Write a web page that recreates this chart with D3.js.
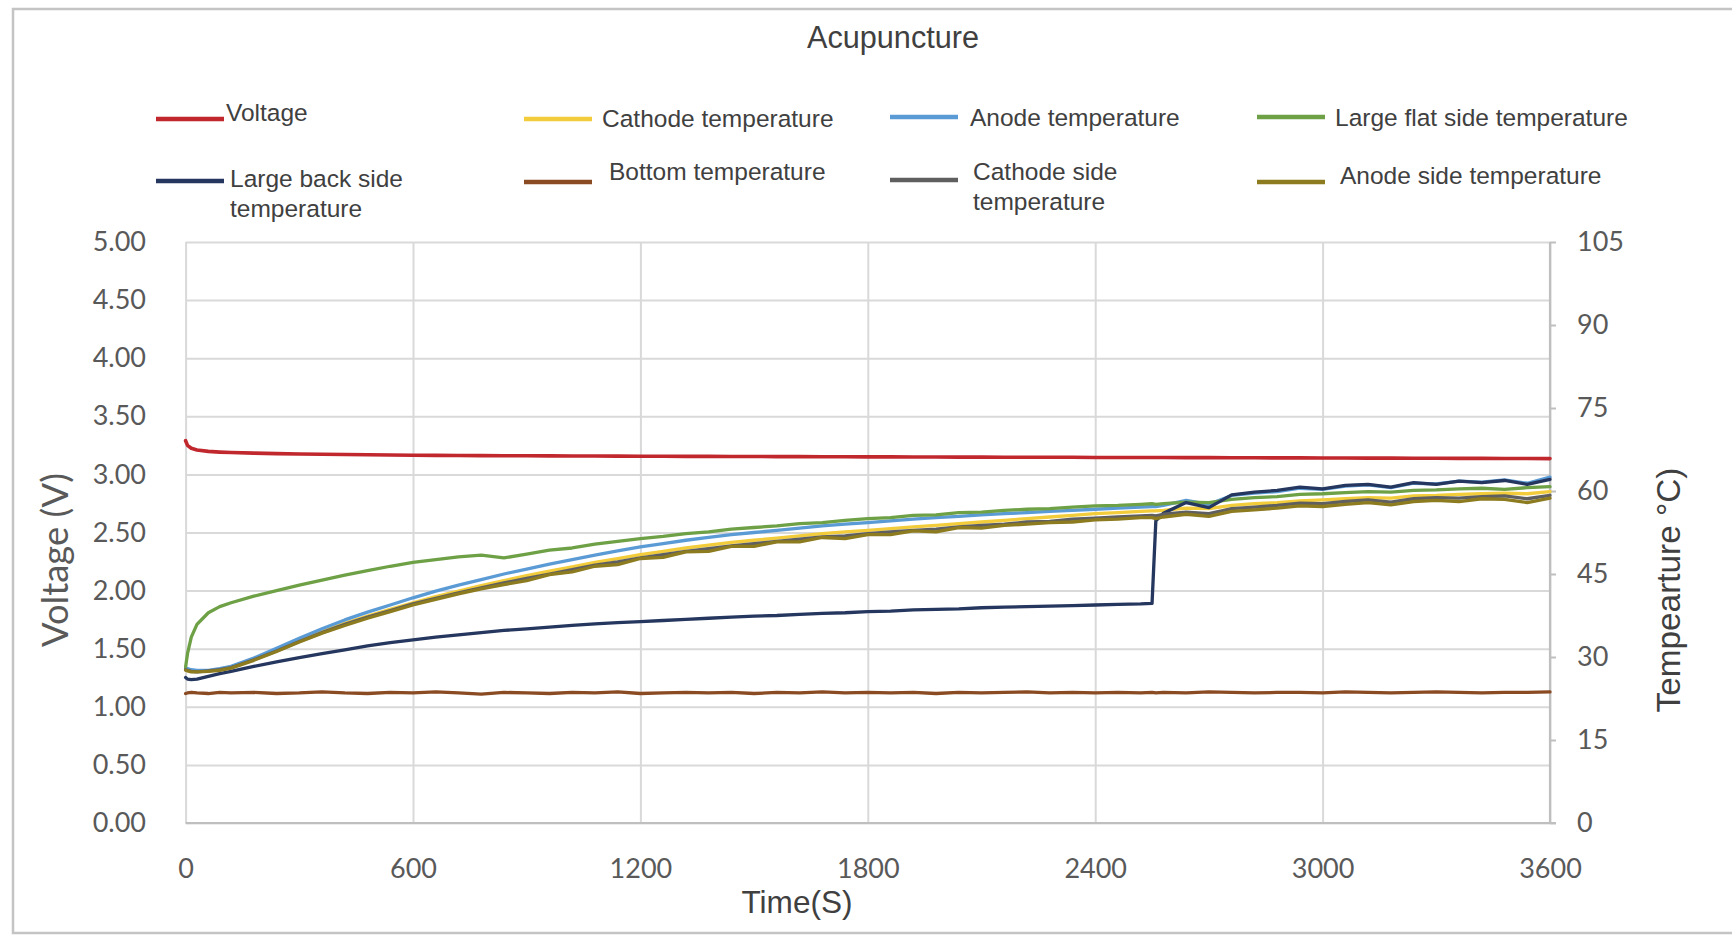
<!DOCTYPE html>
<html>
<head>
<meta charset="utf-8">
<script src="https://cdn.jsdelivr.net/npm/d3@7"></script>
<style>
  html, body { margin: 0; padding: 0; background: #fff; }
  svg { display: block; }
</style>
</head>
<body>
<svg id="chart" width="1732" height="935"></svg>
<script>
// ---- data -------------------------------------------------------------
const chartTitle = "Acupuncture";
const timeTicks = [0, 600, 1200, 1800, 2400, 3000, 3600];
const voltTicks = [0, 0.5, 1, 1.5, 2, 2.5, 3, 3.5, 4, 4.5, 5];
const tempTicks = [0, 15, 30, 45, 60, 75, 90, 105];

// sample times (s)
const times = [0, 5, 15, 30, 60, 90, 120,
  180, 240, 300, 360, 420, 480, 540, 600,
  660, 720, 780, 840, 900, 960, 1020, 1080, 1140, 1200,
  1260, 1320, 1380, 1440, 1500, 1560, 1620, 1680, 1740, 1800,
  1860, 1920, 1980, 2040, 2100, 2160, 2220, 2280, 2340, 2400,
  2460, 2520,
  2550, 2560,
  2580, 2640, 2700, 2760, 2820, 2880, 2940, 3000,
  3060, 3120, 3180, 3240, 3300, 3360, 3420, 3480, 3540, 3600];

// cell voltage (V), left axis
const voltage = [3.29, 3.25, 3.225, 3.21, 3.198, 3.192, 3.188,
  3.183, 3.179, 3.176, 3.173, 3.171, 3.169, 3.167, 3.165,
  3.164, 3.163, 3.162, 3.161, 3.160, 3.159, 3.158, 3.158, 3.157, 3.156,
  3.156, 3.155, 3.155, 3.154, 3.154, 3.153, 3.153, 3.152, 3.152, 3.151,
  3.151, 3.150, 3.150, 3.149, 3.149, 3.148, 3.148, 3.147, 3.147, 3.146,
  3.146, 3.145,
  3.145, 3.145,
  3.145, 3.144, 3.144, 3.143, 3.143, 3.142, 3.142, 3.141,
  3.141, 3.140, 3.140, 3.139, 3.139, 3.138, 3.138, 3.137, 3.137, 3.136];

// temperatures (°C), right axis
const cathodeTemp = [27.8, 27.7, 27.5, 27.4, 27.5, 27.8, 28.2,
  29.6, 31.3, 33.0, 34.6, 36.1, 37.4, 38.6, 39.8,
  40.9, 41.9, 42.9, 43.8, 44.7, 45.5, 46.3, 47.1, 47.8, 48.5,
  49.1, 49.7, 50.2, 50.7, 51.1, 51.5, 51.9, 52.3, 52.6, 52.9,
  53.2, 53.5, 53.8, 54.1, 54.4, 54.7, 55.0, 55.3, 55.6, 55.9,
  56.1, 56.3,
  56.4, 56.4,
  56.5, 56.9, 56.8, 57.4, 57.7, 57.9, 58.2, 58.4,
  58.6, 58.8, 58.7, 59.1, 59.2, 59.4, 59.5, 59.6, 59.5, 59.9];

const anodeTemp = [28.0, 27.9, 27.7, 27.6, 27.6, 27.9, 28.3,
  29.8, 31.6, 33.4, 35.1, 36.7, 38.1, 39.4, 40.7,
  41.9, 43.0, 44.0, 45.0, 45.9, 46.8, 47.6, 48.4, 49.2, 49.9,
  50.5, 51.1, 51.6, 52.1, 52.5, 52.9, 53.3, 53.7, 54.0, 54.3,
  54.6, 54.9, 55.2, 55.4, 55.7, 55.9, 56.1, 56.3, 56.5, 56.7,
  56.9, 57.1,
  57.2, 57.2,
  57.4, 58.3, 57.6, 59.2, 59.6, 59.9, 60.5, 60.3,
  60.9, 61.1, 60.6, 61.4, 61.3, 61.8, 61.6, 62.0, 61.4, 62.5];

const largeFlatTemp = [28.2, 30.6, 33.6, 35.9, 38.0, 39.1, 39.8,
  41.0, 42.0, 43.0, 43.9, 44.8, 45.6, 46.4, 47.1,
  47.6, 48.1, 48.4, 47.9, 48.6, 49.3, 49.7, 50.4, 50.9, 51.4,
  51.8, 52.3, 52.6, 53.1, 53.4, 53.7, 54.1, 54.3, 54.7, 55.0,
  55.2, 55.6, 55.7, 56.1, 56.2, 56.5, 56.7, 56.8, 57.1, 57.3,
  57.4, 57.6,
  57.7, 57.6,
  57.7, 58.0, 57.9, 58.5, 58.8, 59.0, 59.4, 59.5,
  59.7, 59.9, 59.8, 60.1, 60.2, 60.4, 60.5, 60.3, 60.6, 60.8];

const largeBackTemp = [26.3, 26.0, 25.9, 26.0, 26.5, 27.0, 27.4,
  28.3, 29.1, 29.9, 30.6, 31.3, 32.0, 32.6, 33.1,
  33.6, 34.0, 34.4, 34.8, 35.1, 35.4, 35.7, 36.0, 36.2, 36.4,
  36.6, 36.8, 37.0, 37.2, 37.4, 37.5, 37.7, 37.9, 38.0, 38.2,
  38.3, 38.5, 38.6, 38.7, 38.9, 39.0, 39.1, 39.2, 39.3, 39.4,
  39.5, 39.6,
  39.7, 54.6,
  56.0, 57.9, 57.0, 59.3, 59.8, 60.1, 60.7, 60.4,
  61.0, 61.2, 60.7, 61.5, 61.2, 61.8, 61.5, 61.9, 61.2, 62.1];

const bottomTemp = [23.4, 23.5, 23.6, 23.5, 23.4, 23.6, 23.5,
  23.6, 23.4, 23.5, 23.7, 23.5, 23.4, 23.6, 23.5,
  23.7, 23.5, 23.3, 23.6, 23.5, 23.4, 23.6, 23.5, 23.7, 23.4,
  23.5, 23.6, 23.5, 23.6, 23.4, 23.6, 23.5, 23.7, 23.5, 23.6,
  23.5, 23.6, 23.4, 23.6, 23.5, 23.6, 23.7, 23.5, 23.6, 23.5,
  23.6, 23.5,
  23.6, 23.5,
  23.6, 23.5, 23.7, 23.6, 23.5, 23.6, 23.6, 23.5,
  23.7, 23.6, 23.5, 23.6, 23.7, 23.6, 23.5, 23.6, 23.6, 23.7];

const cathodeSideTemp = [27.7, 27.6, 27.4, 27.3, 27.5, 27.7, 28.1,
  29.5, 31.1, 32.8, 34.4, 35.9, 37.2, 38.4, 39.6,
  40.6, 41.6, 42.5, 43.4, 44.2, 45.0, 45.8, 46.6, 47.2, 47.9,
  48.5, 49.1, 49.6, 50.1, 50.5, 50.9, 51.3, 51.7, 51.9, 52.3,
  52.6, 52.9, 53.1, 53.5, 53.8, 54.0, 54.4, 54.5, 54.9, 55.1,
  55.3, 55.5,
  55.6, 55.5,
  55.8, 56.2, 55.9, 56.8, 57.1, 57.4, 57.8, 57.7,
  58.1, 58.4, 58.0, 58.6, 58.8, 58.7, 59.0, 59.1, 58.6, 59.2];

const anodeSideTemp = [27.6, 27.5, 27.3, 27.3, 27.4, 27.6, 28.0,
  29.4, 31.0, 32.7, 34.3, 35.7, 37.0, 38.2, 39.4,
  40.4, 41.4, 42.3, 43.1, 43.8, 44.9, 45.4, 46.4, 46.7, 47.8,
  48.0, 49.0, 49.1, 50.0, 50.0, 50.8, 50.8, 51.6, 51.4, 52.1,
  52.1, 52.8, 52.6, 53.4, 53.3, 53.8, 54.0, 54.3, 54.4, 54.8,
  54.9, 55.2,
  55.2, 55.0,
  55.3, 55.8, 55.4, 56.3, 56.6, 56.9, 57.3, 57.2,
  57.6, 57.9, 57.5, 58.1, 58.3, 58.1, 58.6, 58.5, 57.9, 58.7];

// series in legend / drawing order
const series = [
  { name: "Voltage", values: voltage, axis: "V", color: "#c0282e", width: 3.6 },
  { name: "Cathode temperature", values: cathodeTemp, axis: "T", color: "#f2cc3a", width: 3.3 },
  { name: "Anode temperature", values: anodeTemp, axis: "T", color: "#5b9bd5", width: 3.3 },
  { name: "Large flat side temperature", values: largeFlatTemp, axis: "T", color: "#6ea046", width: 3.3 },
  { name: "Large back side temperature", values: largeBackTemp, axis: "T", color: "#25375e", width: 3.3 },
  { name: "Bottom temperature", values: bottomTemp, axis: "T", color: "#8a4a22", width: 3.3 },
  { name: "Cathode side temperature", values: cathodeSideTemp, axis: "T", color: "#5f5f5f", width: 3.3 },
  { name: "Anode side temperature", values: anodeSideTemp, axis: "T", color: "#8d7b1f", width: 3.3 }
];

// ---- layout -----------------------------------------------------------
const svg = d3.select("#chart");
const plot = { left: 185.6, right: 1550, top: 242, bottom: 823 };
const gridColor = "#d9d9d9";
const axisColor = "#bfbfbf";
const labelColor = "#595959";
const textColor = "#404040";

const x = d3.scaleLinear().domain([0, 3600]).range([plot.left, plot.right]);
const yV = d3.scaleLinear().domain([0, 5]).range([plot.bottom, plot.top]);
const yT = d3.scaleLinear().domain([0, 105]).range([plot.bottom, plot.top]);

// outer frame
svg.append("rect")
  .attr("x", 13).attr("y", 9).attr("width", 1760).attr("height", 924)
  .attr("fill", "#fff").attr("stroke", "#c4c4c4").attr("stroke-width", 2.5);

// sets a text's font size so its rendered length equals the target
function fitLength(sel, target) {
  const w = sel.node().getComputedTextLength();
  const fs = parseFloat(sel.attr("font-size"));
  sel.attr("font-size", (fs * target / w).toFixed(2));
}

// title
const title = svg.append("text")
  .attr("x", 893).attr("y", 37).attr("dy", "0.35em")
  .attr("text-anchor", "middle")
  .attr("font-family", "Liberation Sans, Arial, sans-serif")
  .attr("font-size", 28).attr("fill", textColor)
  .text(chartTitle);
fitLength(title, 172);

// gridlines
const gridG = svg.append("g");
gridG.append("g")
  .attr("transform", `translate(${plot.left},0)`)
  .call(d3.axisLeft(yV).tickValues(voltTicks).tickSize(-(plot.right - plot.left)).tickFormat(""))
  .call(g => g.select(".domain").remove())
  .call(g => g.selectAll("line").attr("stroke", gridColor).attr("stroke-width", 2));
gridG.append("g")
  .attr("transform", `translate(0,${plot.bottom})`)
  .call(d3.axisBottom(x).tickValues(timeTicks).tickSize(-(plot.bottom - plot.top)).tickFormat(""))
  .call(g => g.select(".domain").remove())
  .call(g => g.selectAll("line").attr("stroke", gridColor).attr("stroke-width", 2));

// axis lines
svg.append("line")
  .attr("x1", plot.left).attr("x2", plot.right + 6)
  .attr("y1", plot.bottom).attr("y2", plot.bottom)
  .attr("stroke", axisColor).attr("stroke-width", 2.2);
svg.append("line")
  .attr("x1", plot.right).attr("x2", plot.right)
  .attr("y1", plot.top).attr("y2", plot.bottom)
  .attr("stroke", axisColor).attr("stroke-width", 2.2);

const tickFont = "Lato, Carlito, 'Open Sans', sans-serif";

// left axis labels
svg.append("g")
  .attr("transform", `translate(${plot.left},0)`)
  .call(d3.axisLeft(yV).tickValues(voltTicks).tickFormat(d3.format(".2f")).tickSize(0).tickPadding(plot.left - 146))
  .call(g => g.select(".domain").remove())
  .call(g => g.selectAll("text")
    .attr("font-family", tickFont).attr("font-size", 27).attr("fill", labelColor));

// bottom axis labels
svg.append("g")
  .attr("transform", `translate(0,${plot.bottom})`)
  .call(d3.axisBottom(x).tickValues(timeTicks).tickFormat(d3.format("d")).tickSize(0))
  .call(g => g.select(".domain").remove())
  .call(g => g.selectAll("text")
    .attr("y", 46).attr("dy", "0.35em")
    .attr("font-family", tickFont).attr("font-size", 27).attr("fill", labelColor));

// right axis with small outward ticks
svg.append("g")
  .attr("transform", `translate(${plot.right},0)`)
  .call(d3.axisRight(yT).tickValues(tempTicks).tickFormat(d3.format("d")).tickSize(6).tickPadding(21))
  .call(g => g.select(".domain").remove())
  .call(g => g.selectAll("line").attr("stroke", axisColor).attr("stroke-width", 2))
  .call(g => g.selectAll("text")
    .attr("font-family", tickFont).attr("font-size", 27).attr("fill", labelColor));

// axis titles
const xTitle = svg.append("text")
  .attr("x", 797).attr("y", 902).attr("dy", "0.35em")
  .attr("text-anchor", "middle")
  .attr("font-family", "Liberation Sans, Arial, sans-serif")
  .attr("font-size", 28).attr("fill", textColor)
  .text("Time(S)");
fitLength(xTitle, 111);

const yTitle = svg.append("text")
  .attr("transform", "translate(55,560) rotate(-90)")
  .attr("dy", "0.35em")
  .attr("text-anchor", "middle")
  .attr("font-family", "Lato, 'Open Sans', sans-serif")
  .attr("font-size", 28).attr("fill", labelColor)
  .text("Voltage (V)");
fitLength(yTitle, 174);

const y2Title = svg.append("text")
  .attr("transform", "translate(1668,590) rotate(-90)")
  .attr("dy", "0.35em")
  .attr("text-anchor", "middle")
  .attr("font-family", "Liberation Sans, Arial, sans-serif")
  .attr("font-size", 28).attr("fill", textColor)
  .text("Tempearture °C)");
fitLength(y2Title, 245);

// data lines
const linesG = svg.append("g").attr("fill", "none")
  .attr("stroke-linejoin", "round").attr("stroke-linecap", "round");
series.forEach(s => {
  const yScale = s.axis === "V" ? yV : yT;
  const line = d3.line()
    .x((d, i) => x(times[i]))
    .y(d => yScale(d));
  linesG.append("path")
    .datum(s.values)
    .attr("d", line)
    .attr("stroke", s.color)
    .attr("stroke-width", s.width);
});

// legend (two rows of four, some labels wrapped)
const legendPlaces = [
  { x: 156, y: 119, tx: 226, ty: 112, lines: ["Voltage"] },
  { x: 524, y: 119, tx: 602, ty: 118, lines: ["Cathode temperature"] },
  { x: 890, y: 117, tx: 970, ty: 117, lines: ["Anode temperature"] },
  { x: 1257, y: 117, tx: 1335, ty: 117, lines: ["Large flat side temperature"] },
  { x: 156, y: 181, tx: 230, ty: 178, lines: ["Large back side", "temperature"] },
  { x: 524, y: 182, tx: 609, ty: 171, lines: ["Bottom temperature"] },
  { x: 890, y: 180, tx: 973, ty: 171, lines: ["Cathode side", "temperature"] },
  { x: 1257, y: 182, tx: 1340, ty: 175, lines: ["Anode side temperature"] }
];
const legendG = svg.append("g");
series.forEach((s, i) => {
  const p = legendPlaces[i];
  legendG.append("line")
    .attr("x1", p.x).attr("x2", p.x + 68)
    .attr("y1", p.y).attr("y2", p.y)
    .attr("stroke", s.color).attr("stroke-width", 4.5);
  const t = legendG.append("text")
    .attr("font-family", "Liberation Sans, Arial, sans-serif")
    .attr("font-size", 24.5).attr("fill", textColor);
  p.lines.forEach((ln, k) => {
    t.append("tspan")
      .attr("x", p.tx).attr("y", p.ty + k * 30).attr("dy", "0.35em")
      .text(ln);
  });
});
</script>
</body>
</html>
